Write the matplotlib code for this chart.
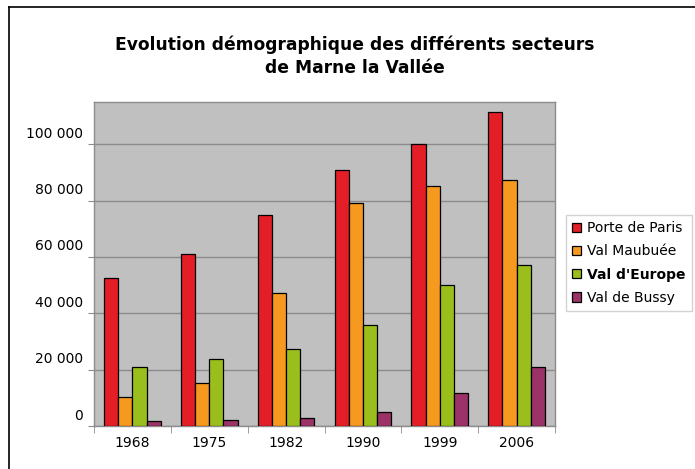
import matplotlib
matplotlib.use("Agg")
import matplotlib.pyplot as plt
import matplotlib.transforms as mtransforms
from matplotlib.lines import Line2D
import numpy as np

# Données
annees = ["1968", "1975", "1982", "1990", "1999", "2006"]
secteurs = ["Porte de Paris", "Val Maubuée", "Val d'Europe", "Val de Bussy"]
porte_de_paris = [52700, 61100, 74800, 90800, 100200, 111300]
val_maubuee = [10200, 15400, 47100, 79100, 85300, 87300]
val_d_europe = [21100, 23900, 27500, 35800, 50000, 57200]
val_de_bussy = [1700, 2100, 2900, 5000, 11700, 21100]
y_ticks = [0, 20000, 40000, 60000, 80000, 100000]
couleurs = ["#E41E26", "#F5991F", "#9ABF1C", "#9B3368"]

series = [porte_de_paris, val_maubuee, val_d_europe, val_de_bussy]

fig = plt.figure(figsize=(6.95, 4.69), dpi=100)
ax = fig.add_axes([94 / 695, 43 / 469, 461 / 695, 324.5 / 469])
ax.set_facecolor("#C0C0C0")

x = np.arange(len(annees))
largeur = 0.184
for i, (valeurs, nom, c) in enumerate(zip(series, secteurs, couleurs)):
    ax.bar(x + (i - 1.5) * largeur, valeurs, largeur, color=c, label=nom,
           edgecolor="black", linewidth=0.9, zorder=3)

ax.set_xlim(-0.5, len(annees) - 0.5)
ax.set_ylim(0, 115200)

# Axe Y : étiquettes décalées au-dessus des lignes de grille
ax.set_yticks(y_ticks)
ax.set_yticklabels([f"{v:,}".replace(",", " ") for v in y_ticks])
ax.yaxis.grid(True, color="#8C8C8C", linewidth=1.0, zorder=1)
ax.tick_params(axis="y", length=4, color="#8C8C8C", labelsize=10, pad=4)
decalage = mtransforms.ScaledTranslation(0, 0.12, fig.dpi_scale_trans)
for lab in ax.get_yticklabels():
    lab.set_transform(lab.get_transform() + decalage)

# Axe X : étiquettes au centre, graduations entre les groupes
ax.set_xticks(x)
ax.set_xticklabels(annees)
ax.set_xticks(np.arange(-0.5, len(annees)), minor=True)
ax.tick_params(axis="x", which="major", length=0, labelsize=10, pad=7)
ax.tick_params(axis="x", which="minor", length=5, color="#8C8C8C")

for s in ax.spines.values():
    s.set_color("#8C8C8C")
    s.set_linewidth(1.0)

fig.suptitle("Evolution démographique des différents secteurs\nde Marne la Vallée",
             x=355 / 695, y=1 - 36 / 469, fontsize=12.3, fontweight="bold",
             linespacing=1.35, va="top")

leg = fig.legend(loc="upper left", bbox_to_anchor=(566 / 695, 1 - 215 / 469),
                 fontsize=10, frameon=True, fancybox=False, edgecolor="#C8C8C8",
                 handlelength=0.65, handleheight=0.65, handletextpad=0.4,
                 labelspacing=0.66, borderpad=0.45, borderaxespad=0)
leg.get_frame().set_linewidth(1.0)
leg.get_texts()[2].set_fontweight("bold")

# Cadre extérieur (gauche et haut)
fig.add_artist(Line2D([9 / 695, 9 / 695], [0, 1 - 7 / 469], color="black",
                      linewidth=1.2, transform=fig.transFigure))
fig.add_artist(Line2D([9 / 695, 1], [1 - 7 / 469, 1 - 7 / 469], color="black",
                      linewidth=1.2, transform=fig.transFigure))

fig.savefig("out.png", dpi=100)
